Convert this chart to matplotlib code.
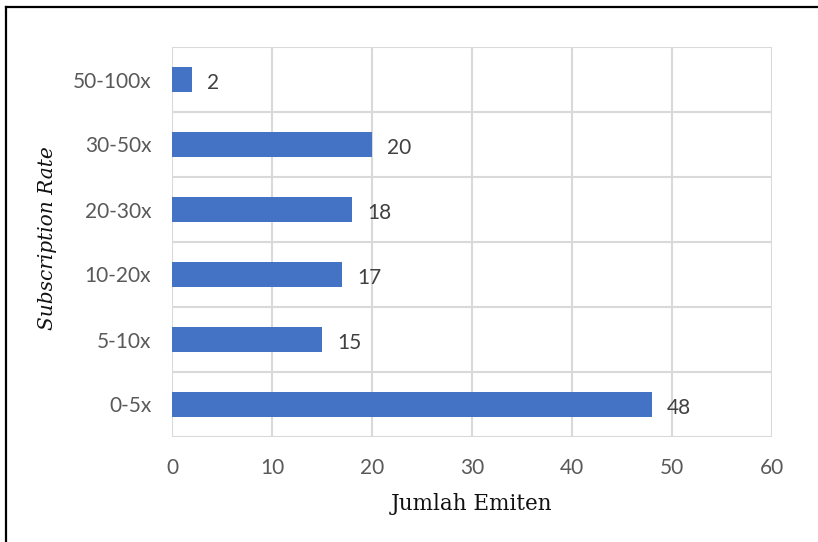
import matplotlib
matplotlib.use("Agg")
import matplotlib.pyplot as plt
from matplotlib.lines import Line2D

# Data
kategori = ["0-5x", "5-10x", "10-20x", "20-30x", "30-50x", "50-100x"]
jumlah = [48, 15, 17, 18, 20, 2]
x_ticks = [0, 10, 20, 30, 40, 50, 60]

biru = "#4472C4"
abu = "#d9d9d9"
teks = "#595959"

fig = plt.figure(figsize=(8.18, 5.42), dpi=100)
ax = fig.add_axes([172/818, 1-437/542, 600/818, 390/542])

pos = range(len(kategori))
ax.barh(pos, jumlah, height=0.37, color=biru, zorder=3)

ax.set_xlim(0, 60)
ax.set_ylim(-0.5, len(kategori) - 0.5)
ax.set_xticks(x_ticks)
ax.set_yticks(list(pos))
ax.set_yticklabels(kategori)

# grid: vertikal di tiap tick, horizontal di batas kategori
for xv in x_ticks:
    ax.axvline(xv, color=abu, lw=1.5, zorder=1)
for i in range(len(kategori) + 1):
    ax.axhline(i - 0.5, color=abu, lw=1.5, zorder=1)

for s in ax.spines.values():
    s.set_visible(False)
ax.tick_params(length=0, labelsize=15, labelcolor=teks)
for lb in ax.get_xticklabels() + ax.get_yticklabels():
    lb.set_fontfamily("Lato")
ax.tick_params(axis="y", pad=15)
ax.tick_params(axis="x", pad=15)

# label nilai
for i, v in enumerate(jumlah):
    ax.text(v + 1.5, i - 0.05, str(v), va="center", ha="left",
            fontsize=15, color="#404040", family="Lato")

ax.set_xlabel("Jumlah Emiten", family="DejaVu Serif", fontsize=15.5,
              color="#111111", labelpad=11)
fig.text(48/818, 1-238/542, "Subscription Rate", rotation=90, va="center",
         ha="center", family="DejaVu Serif", style="italic", fontsize=14.5,
         color="#111111")

# bingkai kiri dan atas
fig.add_artist(Line2D([6/818, 6/818], [0, 1-7/542], transform=fig.transFigure,
                      color="black", lw=1.6))
fig.add_artist(Line2D([6/818, 1], [1-7/542, 1-7/542], transform=fig.transFigure,
                      color="black", lw=1.6))

fig.savefig("out.png", dpi=100)
